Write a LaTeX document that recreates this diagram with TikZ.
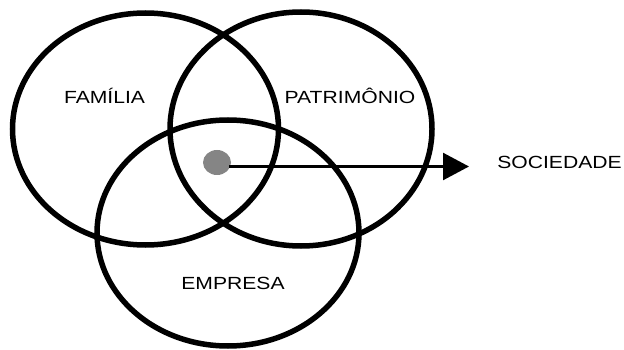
\documentclass[tikz,border=0pt]{standalone}
\usepackage{fontspec}
\setmainfont{Liberation Sans}[FakeStretch=1.2]
\usetikzlibrary{shapes.geometric,arrows.meta}
\begin{document}
\begin{tikzpicture}[
  x=1pt,y=-1pt,
  >={Triangle[length=26pt,width=27pt]},
  ring/.style={draw=black,line width=5.5pt,ellipse,inner sep=0pt},
  word/.style={font=\fontsize{17.6}{20}\selectfont,inner sep=0pt,anchor=base}
]
  \useasboundingbox (0,0) rectangle (624,350);
  \node[ring,minimum width=266pt,minimum height=232pt] (fam) at (145.5,129) {};
  \node[ring,minimum width=262pt,minimum height=234pt] (pat) at (301,129) {};
  \node[ring,minimum width=262pt,minimum height=226pt] (emp) at (228,233) {};

  \node[word] (tfam) at (104.5,103.5) {FAMÍLIA};
  \node[word] (tpat) at (350,104) {PATRIMÔNIO};
  \node[word] (temp) at (233,289.5) {EMPRESA};
  \node[word] (soc) at (559.5,168) {SOCIEDADE};

  \node[ellipse,fill=black!48,minimum width=28pt,minimum height=25pt,inner sep=0pt] (dot) at (217,162.5) {};
  \coordinate (tip) at (469,166.5);
  \draw[->,line width=2.5pt] ([xshift=-2pt]dot.east |- tip) -- (tip);
\end{tikzpicture}
\end{document}
